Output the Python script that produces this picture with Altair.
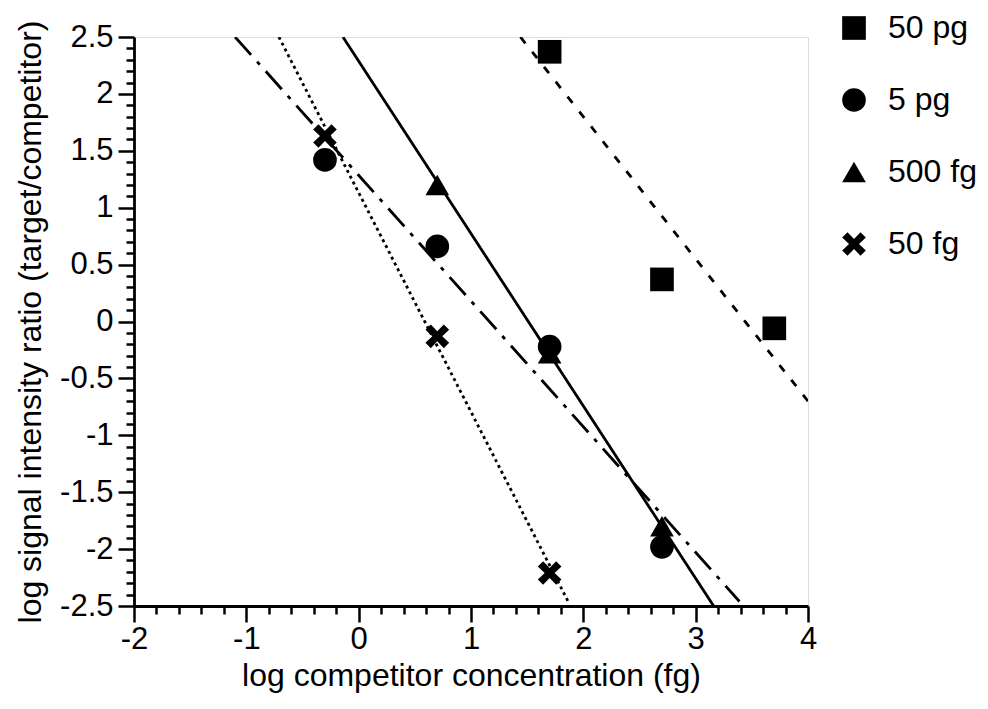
import altair as alt
import pandas as pd

# ---- data ----
series_order = ["50 pg", "5 pg", "500 fg", "50 fg"]

sq_x = [1.7, 2.7, 3.7]
sq_y = [2.37, 0.37, -0.06]
ci_x = [-0.3, 0.7, 1.7, 2.7]
ci_y = [1.42, 0.66, -0.22, -1.98]
tr_x = [0.7, 1.7, 2.7]
tr_y = [1.2, -0.28, -1.8]
cr_x = [-0.3, 0.7, 1.7]
cr_y = [1.63, -0.13, -2.21]

# fitted lines: endpoints (where each line meets the frame)
fit_series = ["50 pg", "50 pg", "5 pg", "5 pg", "500 fg", "500 fg", "50 fg", "50 fg"]
fit_x = [1.44, 4.0, -1.1, 3.39, -0.14, 3.16, -0.71, 1.87]
fit_y = [2.5, -0.7, 2.5, -2.46, 2.5, -2.5, 2.5, -2.47]

x_ticks = [round(-2 + 0.2 * i, 1) for i in range(31)]
y_ticks = [round(-2.5 + 0.1 * i, 1) for i in range(51)]

# ---- tables ----
pts = pd.DataFrame({
    "x": sq_x + ci_x + tr_x + cr_x,
    "y": sq_y + ci_y + tr_y + cr_y,
    "s": ["50 pg"] * len(sq_x) + ["5 pg"] * len(ci_x) + ["500 fg"] * len(tr_x) + ["50 fg"] * len(cr_x),
    "kind": "pt",
})
fits = pd.DataFrame({"x": fit_x, "y": fit_y, "fs": fit_series, "kind": "fit"})
data = pd.concat([pts, fits], ignore_index=True)

FONT = "Liberation Sans"
xmaj = "abs(datum.value - round(datum.value)) < 1e-6"
ymaj = "abs(datum.value*2 - round(datum.value*2)) < 1e-6"

xscale = alt.Scale(domain=[-2, 4], nice=False, zero=False)
yscale = alt.Scale(domain=[-2.5, 2.5], nice=False, zero=False)

xaxis = alt.Axis(
    values=x_ticks, grid=False, domainColor="black", domainWidth=2.8,
    tickColor="black", tickWidth=2.5,
    tickSize={"condition": {"test": xmaj, "value": 16}, "value": 8},
    labelExpr=f"({xmaj}) ? '' + datum.value : ''",
    labelFont=FONT, labelFontSize=31, labelColor="black", labelPadding=2,
    labelFlush=False, labelOverlap=False,
    title="log competitor concentration (fg)", titleFont=FONT, titleFontSize=32,
    titleFontWeight="normal", titleColor="black", titlePadding=6,
)
yaxis = alt.Axis(
    values=y_ticks, grid=False, domainColor="black", domainWidth=2.8,
    tickColor="black", tickWidth=2.5,
    tickSize={"condition": {"test": ymaj, "value": 16}, "value": 8},
    labelExpr=f"({ymaj}) ? '' + datum.value : ''",
    labelFont=FONT, labelFontSize=31, labelColor="black", labelPadding=5,
    labelFlush=False, labelOverlap=False,
    title="log signal intensity ratio (target/competitor)", titleFont=FONT,
    titleFontSize=32, titleFontWeight="normal", titleColor="black", titlePadding=12,
)

XPATH = ("M-1,-0.55L-0.55,-1L0,-0.42L0.55,-1L1,-0.55L0.42,0L1,0.55L0.55,1"
         "L0,0.42L-0.55,1L-1,0.55L-0.42,0Z")

base = alt.Chart(data).encode(
    x=alt.X("x:Q", scale=xscale, axis=xaxis),
    y=alt.Y("y:Q", scale=yscale, axis=yaxis),
)

lines = base.transform_filter("datum.kind == 'fit'").mark_line(
    color="black", strokeWidth=2.8, clip=True
).encode(
    detail="fs:N",
    strokeDash=alt.StrokeDash(
        "fs:N",
        scale=alt.Scale(domain=series_order,
                        range=[[8, 11], [24, 9, 4, 9], [1, 0], [3, 3.5]]),
        legend=None,
    ),
)

points = base.transform_filter("datum.kind == 'pt'").mark_point(
    filled=True, color="black", opacity=1, size=560
).encode(
    shape=alt.Shape(
        "s:N",
        scale=alt.Scale(domain=series_order,
                        range=["square", "circle", "triangle-up", XPATH]),
        sort=series_order,
        legend=alt.Legend(
            title=None, orient="none", legendX=704, legendY=-25,
            symbolSize=560, symbolFillColor="black", symbolStrokeWidth=0,
            labelFont=FONT, labelFontSize=32, labelColor="black",
            labelOffset=18, rowPadding=40,
        ),
    ),
)

chart = alt.layer(lines, points).resolve_legend(
    shape="independent", strokeDash="independent"
).properties(
    width=674, height=569,
    autosize=alt.AutoSizeParams(type="none"),
    padding={"left": 126, "top": 29, "right": 172, "bottom": 100},
).configure_view(stroke=None).configure(background="white")

chart.save("out.html", embed_options={"renderer": "svg", "actions": False})
